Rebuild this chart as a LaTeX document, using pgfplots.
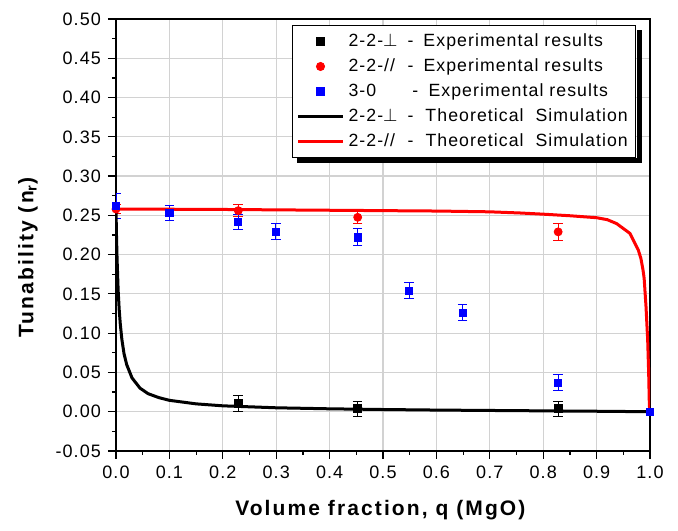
\documentclass[border=0pt]{standalone}
\usepackage{fontspec}
\setmainfont{Liberation Sans}[LetterSpace=6]
\newfontfamily\labfont{Liberation Sans}[LetterSpace=10]
\usepackage{pgfplots}
\pgfplotsset{compat=1.18}
\pgfplotsset{
  markleg/.style={legend image code/.code={\draw[##1,mark repeat=2,mark phase=2] plot coordinates {(0pt,0pt) (11.25pt,0pt) (22.5pt,0pt)};}},
  lineleg/.style={legend image code/.code={\draw[##1] (0pt,0pt) -- (22.5pt,0pt);}},
}
\begin{document}
\begin{tikzpicture}
\begin{axis}[
  scale only axis,
  width=267pt, height=216pt,
  xmin=0, xmax=1, ymin=-0.05, ymax=0.5,
  xtick={0,0.1,...,1.01}, ytick={-0.05,0,0.05,0.1,0.15,0.2,0.25,0.3,0.35,0.4,0.45,0.5},
  minor x tick num=1, minor y tick num=1,
  xtick pos=bottom, ytick pos=left,
  tick align=outside,
  major tick length=4pt, minor tick length=2pt,
  every tick/.style={black, line width=0.6pt},
  axis line style={line width=1pt},
  grid=major,
  major grid style={gray!35, line width=0.6pt},
  /pgf/number format/assume math mode=true,
  xticklabel style={/pgf/number format/.cd, fixed, fixed zerofill, precision=1},
  yticklabel style={/pgf/number format/.cd, fixed, fixed zerofill, precision=2},
  tick label style={font=\fontsize{9}{10}\selectfont},
  scaled ticks=false,
  xlabel={\labfont\bfseries Volume fraction, q (MgO)},
  ylabel={\labfont\bfseries Tunability (n\textsubscript{r})},
  label style={font=\fontsize{10.5}{12}\selectfont},
  xlabel style={at={(axis description cs:0.495,-0.137)}, anchor=center},
  ylabel style={at={(axis description cs:-0.165,0.448)}, anchor=center},
  legend style={name=leg, at={(axis description cs:0.3296,0.986)}, anchor=north west,
    draw=black, line width=0.5pt, fill=white,
    font=\fontsize{8.85}{10}\selectfont, row sep=0.6pt,
    inner xsep=2pt, inner ysep=2pt},
  legend cell align=left,
  error bars/y dir=both, error bars/y explicit,
  error bars/error mark options={rotate=90, mark size=2.4pt, line width=0.5pt},
  error bars/error bar style={line width=0.5pt},
]
% 2-2-perp experimental
\addplot[only marks, mark=square*, mark size=2pt, color=black, markleg]
  coordinates {
  (0.229,0.0105) +- (0,0.0106)
  (0.4526,0.0040) +- (0,0.0096)
  (0.828,0.0040) +- (0,0.0096)
  };
\addlegendentry{\makebox[29.5pt][l]{2-2-$\perp$}\makebox[8pt][l]{-}Experimental results}
% 2-2-// experimental
\addplot[only marks, mark=*, mark size=2pt, color=red, markleg]
  coordinates {
  (0,0.258) +- (0,0.006)
  (0.229,0.256) +- (0,0.0075)
  (0.4526,0.2475) +- (0,0.008)
  (0.828,0.229) +- (0,0.0106)
  };
\addlegendentry{\makebox[29.5pt][l]{2-2-//}\makebox[8pt][l]{-}Experimental results}
% 3-0 experimental
\addplot[only marks, mark=square*, mark size=1.8pt, color=blue, markleg]
  coordinates {
  (0,0.262) +- (0,0.016)
  (0.1,0.253) +- (0,0.010)
  (0.229,0.2416) +- (0,0.0097)
  (0.2996,0.229) +- (0,0.010)
  (0.4526,0.222) +- (0,0.0108)
  (0.549,0.154) +- (0,0.0102)
  (0.649,0.126) +- (0,0.0102)
  (0.828,0.037) +- (0,0.0102)
  (1.0,0.0) +- (0,0.0)
  };
\addlegendentry{\makebox[32pt][l]{3-0}\makebox[8pt][l]{-}Experimental results}
% 2-2-perp theory
\addplot[no marks, color=black, line width=1.5pt, error bars/y dir=none, lineleg]
  coordinates {
  (0,0.258) (0.001,0.222) (0.002,0.195) (0.004,0.155) (0.006,0.130)
  (0.008,0.112) (0.011,0.092) (0.015,0.074) (0.02,0.060) (0.03,0.043)
  (0.045,0.030) (0.06,0.023) (0.08,0.018) (0.1,0.0145) (0.15,0.0100)
  (0.2,0.0075) (0.3,0.0050) (0.4,0.0037) (0.5,0.0028) (0.6,0.0021)
  (0.7,0.0016) (0.8,0.0011) (0.9,0.0006) (1.0,0)
  };
\addlegendentry{\makebox[29.5pt][l]{2-2-$\perp$}\makebox[9pt][l]{-}Theoretical\ \ Simulation}
% 2-2-// theory
\addplot[no marks, color=red, line width=1.5pt, error bars/y dir=none, lineleg]
  coordinates {
  (0,0.258) (0.1,0.2578) (0.2,0.2575) (0.3,0.257) (0.4,0.2565) (0.5,0.256)
  (0.6,0.2555) (0.7,0.2545) (0.757,0.253) (0.8,0.2515) (0.85,0.2495)
  (0.9,0.247) (0.92,0.2445) (0.9375,0.2395) (0.9625,0.227) (0.969,0.218) (0.978,0.206)
  (0.983,0.195) (0.987,0.180) (0.989,0.170) (0.9925,0.134) (0.9956,0.092)
  (0.9975,0.049) (0.9988,0.007) (1.0,0)
  };
\addlegendentry{\makebox[29.5pt][l]{2-2-//}\makebox[9pt][l]{-}Theoretical\ \ Simulation}
\end{axis}
\fill[black] ([shift={(0.25pt,-2.5pt)}]leg.north east) rectangle ([shift={(2.75pt,-2.75pt)}]leg.south east);
\fill[black] ([shift={(2.5pt,-0.25pt)}]leg.south west) rectangle ([shift={(2.75pt,-2.75pt)}]leg.south east);
\pgfresetboundingbox
\path ([shift={(-58pt,-40pt)}]current axis.south west) rectangle ([shift={(14pt,9.5pt)}]current axis.north east);
\end{tikzpicture}
\end{document}
